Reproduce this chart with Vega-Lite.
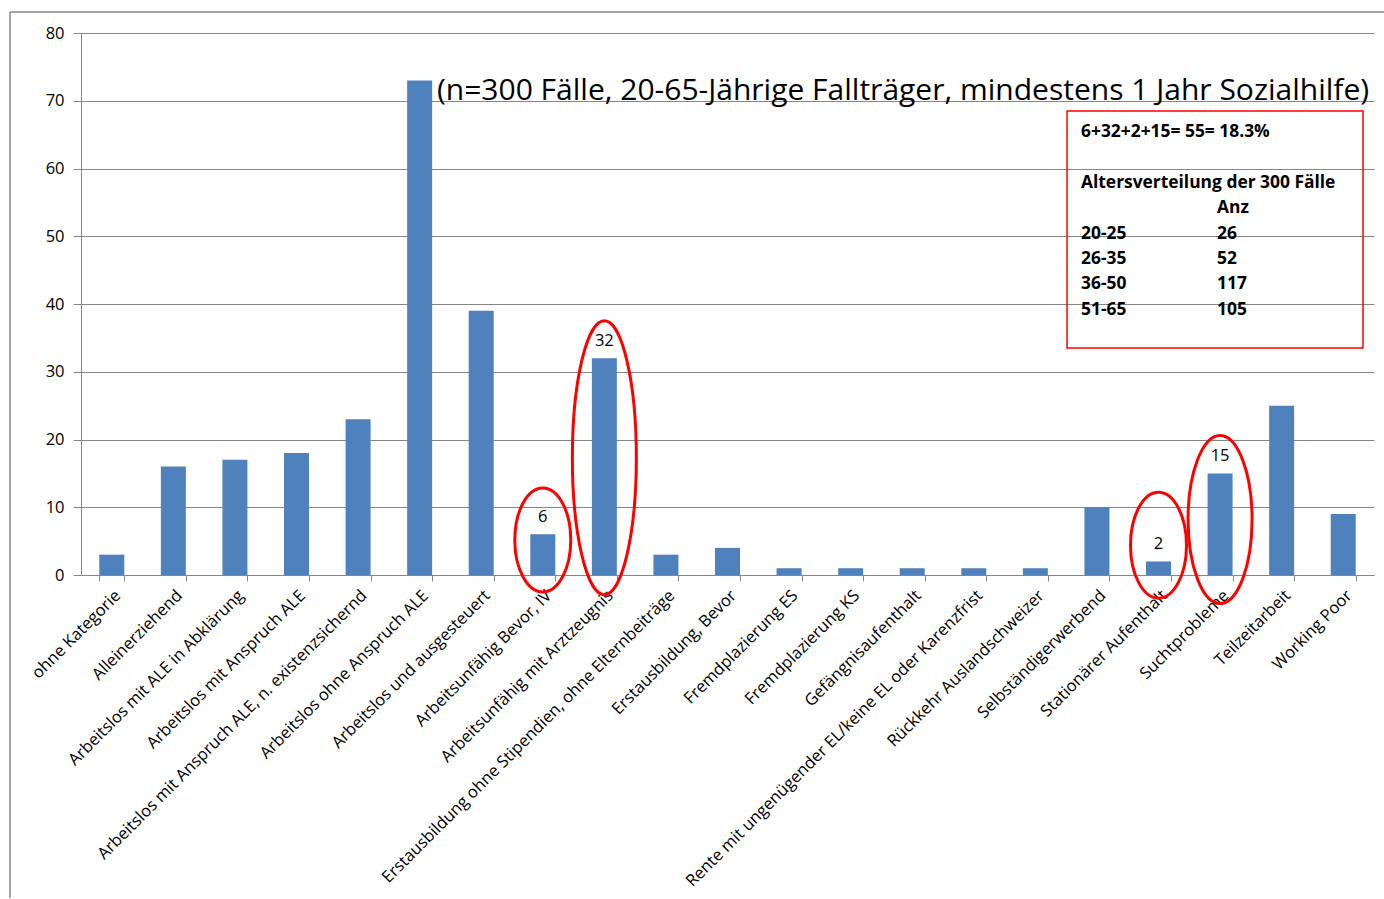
{
  "$schema": "https://vega.github.io/schema/vega-lite/v6.json",
  "width": 1293,
  "height": 542,
  "autosize": {"type": "none"},
  "padding": {"left": 81, "top": 33, "right": 10, "bottom": 324},
  "background": "white",
  "config": {"view": {"stroke": null}, "font": "Open Sans"},
  "layer": [
    {
      "data": {
        "values": [
          {"Kategorie": "ohne Kategorie", "Anzahl": 3},
          {"Kategorie": "Alleinerziehend", "Anzahl": 16},
          {"Kategorie": "Arbeitslos mit ALE in Abklärung", "Anzahl": 17},
          {"Kategorie": "Arbeitslos mit Anspruch ALE", "Anzahl": 18},
          {"Kategorie": "Arbeitslos mit Anspruch ALE, n. existenzsichernd", "Anzahl": 23},
          {"Kategorie": "Arbeitslos ohne Anspruch ALE", "Anzahl": 73},
          {"Kategorie": "Arbeitslos und ausgesteuert", "Anzahl": 39},
          {"Kategorie": "Arbeitsunfähig Bevor, IV", "Anzahl": 6},
          {"Kategorie": "Arbeitsunfähig mit Arztzeugnis", "Anzahl": 32},
          {"Kategorie": "Erstausbildung ohne Stipendien, ohne Elternbeiträge", "Anzahl": 3},
          {"Kategorie": "Erstausbildung, Bevor", "Anzahl": 4},
          {"Kategorie": "Fremdplazierung ES", "Anzahl": 1},
          {"Kategorie": "Fremdplazierung KS", "Anzahl": 1},
          {"Kategorie": "Gefängnisaufenthalt", "Anzahl": 1},
          {"Kategorie": "Rente mit ungenügender EL/keine EL oder Karenzfrist", "Anzahl": 1},
          {"Kategorie": "Rückkehr Auslandschweizer", "Anzahl": 1},
          {"Kategorie": "Selbständigerwerbend", "Anzahl": 10},
          {"Kategorie": "Stationärer Aufenthalt", "Anzahl": 2},
          {"Kategorie": "Suchtprobleme", "Anzahl": 15},
          {"Kategorie": "Teilzeitarbeit", "Anzahl": 25},
          {"Kategorie": "Working Poor", "Anzahl": 9}
        ]
      },
      "layer": [
        {
          "mark": {"type": "bar", "color": "#4F81BD"},
          "encoding": {
            "x": {
              "field": "Kategorie", "type": "nominal", "sort": null,
              "scale": {"paddingInner": 0.594, "paddingOuter": 0.297},
              "axis": {
                "title": null, "labelAngle": -45, "labelAlign": "right", "labelBaseline": "top",
                "labelFontSize": 16.5, "labelFont": "Open Sans", "labelColor": "#000000",
                "labelLimit": 0, "labelOverlap": false, "labelPadding": 6,
                "tickBand": "extent", "tickSize": 6, "tickColor": "#868686",
                "domainColor": "#868686", "grid": false
              }
            },
            "y": {
              "field": "Anzahl", "type": "quantitative",
              "scale": {"domain": [0, 80], "nice": false},
              "axis": {
                "title": null, "values": [0, 10, 20, 30, 40, 50, 60, 70, 80],
                "labelFontSize": 16.5, "labelFont": "Open Sans", "labelColor": "#000000",
                "labelPadding": 9, "tickSize": 8, "tickColor": "#868686",
                "domainColor": "#868686", "grid": true, "gridColor": "#868686", "gridWidth": 1
              }
            }
          }
        },
        {
          "transform": [{"filter": {"field": "Kategorie", "oneOf": ["Arbeitsunfähig Bevor, IV", "Arbeitsunfähig mit Arztzeugnis", "Stationärer Aufenthalt", "Suchtprobleme"]}}],
          "mark": {"type": "text", "baseline": "bottom", "dy": -9, "fontSize": 16.5, "font": "Open Sans", "color": "#000000"},
          "encoding": {
            "x": {"field": "Kategorie", "type": "nominal", "sort": null},
            "y": {"field": "Anzahl", "type": "quantitative"},
            "text": {"field": "Anzahl", "type": "quantitative"}
          }
        },
        {
          "transform": [{"filter": {"field": "Kategorie", "equal": "Arbeitsunfähig Bevor, IV"}}],
          "mark": {"type": "point", "shape": "M-28,0A28,52 0 1,1 28,0A28,52 0 1,1 -28,0Z", "size": 4, "filled": false, "stroke": "#FF0000", "strokeWidth": 3, "opacity": 1},
          "encoding": {
            "x": {"field": "Kategorie", "type": "nominal", "sort": null},
            "y": {"datum": 5.17, "type": "quantitative"}
          }
        },
        {
          "transform": [{"filter": {"field": "Kategorie", "equal": "Arbeitsunfähig mit Arztzeugnis"}}],
          "mark": {"type": "point", "shape": "M-32,0A32,137 0 1,1 32,0A32,137 0 1,1 -32,0Z", "size": 4, "filled": false, "stroke": "#FF0000", "strokeWidth": 3, "opacity": 1},
          "encoding": {
            "x": {"field": "Kategorie", "type": "nominal", "sort": null},
            "y": {"datum": 17.3, "type": "quantitative"}
          }
        },
        {
          "transform": [{"filter": {"field": "Kategorie", "equal": "Stationärer Aufenthalt"}}],
          "mark": {"type": "point", "shape": "M-28,0A28,53 0 1,1 28,0A28,53 0 1,1 -28,0Z", "size": 4, "filled": false, "stroke": "#FF0000", "strokeWidth": 3, "opacity": 1},
          "encoding": {
            "x": {"field": "Kategorie", "type": "nominal", "sort": null},
            "y": {"datum": 4.4, "type": "quantitative"}
          }
        },
        {
          "transform": [{"filter": {"field": "Kategorie", "equal": "Suchtprobleme"}}],
          "mark": {"type": "point", "shape": "M-32,0A32,84 0 1,1 32,0A32,84 0 1,1 -32,0Z", "size": 4, "filled": false, "stroke": "#FF0000", "strokeWidth": 3, "opacity": 1},
          "encoding": {
            "x": {"field": "Kategorie", "type": "nominal", "sort": null},
            "y": {"datum": 8.2, "type": "quantitative"}
          }
        }
      ]
    },
    {
      "data": {"values": [{}]},
      "layer": [
        {
          "mark": {"type": "rule", "color": "#868686", "strokeWidth": 1.5},
          "encoding": {
            "x": {"datum": -5.49, "type": "quantitative", "scale": {"domain": [0, 100], "nice": false, "zero": false}, "axis": null},
            "x2": {"datum": 100.8},
            "y": {"datum": -3.87, "type": "quantitative", "scale": {"domain": [0, 100], "nice": false, "zero": false, "reverse": true}, "axis": null}
          }
        },
        {
          "mark": {"type": "rule", "color": "#868686", "strokeWidth": 1.5},
          "encoding": {
            "x": {"datum": -5.49, "type": "quantitative", "scale": {"domain": [0, 100], "nice": false, "zero": false}, "axis": null},
            "y": {"datum": -3.87, "type": "quantitative", "scale": {"domain": [0, 100], "nice": false, "zero": false, "reverse": true}, "axis": null},
            "y2": {"datum": 159.6}
          }
        },
        {
          "mark": {"type": "rect", "fill": null, "fillOpacity": 0, "stroke": "#FF0000", "strokeWidth": 1.5},
          "encoding": {
            "x": {"datum": 76.26, "type": "quantitative", "scale": {"domain": [0, 100], "nice": false, "zero": false}, "axis": null},
            "x2": {"datum": 99.15},
            "y": {"datum": 14.39, "type": "quantitative", "scale": {"domain": [0, 100], "nice": false, "zero": false, "reverse": true}, "axis": null},
            "y2": {"datum": 58.12}
          }
        },
        {
          "mark": {"type": "text", "align": "left", "baseline": "alphabetic", "fontSize": 30, "font": "Open Sans", "color": "#000000",
                   "text": "(n=300 Fälle, 20-65-Jährige Fallträger, mindestens 1 Jahr Sozialhilfe)"},
          "encoding": {
            "x": {"datum": 27.53, "type": "quantitative", "scale": {"domain": [0, 100], "nice": false, "zero": false}, "axis": null},
            "y": {"datum": 12.36, "type": "quantitative", "scale": {"domain": [0, 100], "nice": false, "zero": false, "reverse": true}, "axis": null}
          }
        },
        {
          "mark": {"type": "text", "align": "left", "baseline": "alphabetic", "fontSize": 17.4, "fontWeight": "bold", "font": "Open Sans", "color": "#000000",
                   "text": "6+32+2+15= 55= 18.3%"},
          "encoding": {
            "x": {"datum": 77.34, "type": "quantitative", "scale": {"domain": [0, 100], "nice": false, "zero": false}, "axis": null},
            "y": {"datum": 19.19, "type": "quantitative", "scale": {"domain": [0, 100], "nice": false, "zero": false, "reverse": true}, "axis": null}
          }
        },
        {
          "mark": {"type": "text", "align": "left", "baseline": "alphabetic", "fontSize": 17.4, "fontWeight": "bold", "font": "Open Sans", "color": "#000000",
                   "text": "Altersverteilung der 300 Fälle"},
          "encoding": {
            "x": {"datum": 77.34, "type": "quantitative", "scale": {"domain": [0, 100], "nice": false, "zero": false}, "axis": null},
            "y": {"datum": 28.56, "type": "quantitative", "scale": {"domain": [0, 100], "nice": false, "zero": false, "reverse": true}, "axis": null}
          }
        },
        {
          "mark": {"type": "text", "align": "left", "baseline": "alphabetic", "fontSize": 17.4, "fontWeight": "bold", "font": "Open Sans", "color": "#000000", "lineHeight": 25.4,
                   "text": ["20-25", "26-35", "36-50", "51-65"]},
          "encoding": {
            "x": {"datum": 77.34, "type": "quantitative", "scale": {"domain": [0, 100], "nice": false, "zero": false}, "axis": null},
            "y": {"datum": 37.93, "type": "quantitative", "scale": {"domain": [0, 100], "nice": false, "zero": false, "reverse": true}, "axis": null}
          }
        },
        {
          "mark": {"type": "text", "align": "left", "baseline": "alphabetic", "fontSize": 17.4, "fontWeight": "bold", "font": "Open Sans", "color": "#000000", "lineHeight": 25.4,
                   "text": ["Anz", "26", "52", "117", "105"]},
          "encoding": {
            "x": {"datum": 87.86, "type": "quantitative", "scale": {"domain": [0, 100], "nice": false, "zero": false}, "axis": null},
            "y": {"datum": 33.25, "type": "quantitative", "scale": {"domain": [0, 100], "nice": false, "zero": false, "reverse": true}, "axis": null}
          }
        }
      ]
    }
  ],
  "resolve": {"scale": {"x": "independent", "y": "independent"}}
}
